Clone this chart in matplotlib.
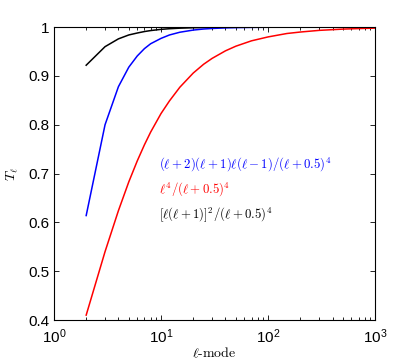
import numpy as np
import matplotlib
matplotlib.use('Agg')
import matplotlib.pyplot as plt
from matplotlib.ticker import FixedLocator, FuncFormatter

plt.rcParams['font.family'] = 'Liberation Sans'
plt.rcParams['mathtext.fontset'] = 'cm'

# values
ell = [2, 3, 4, 5, 6, 7, 8, 10, 12, 15, 20, 25, 30, 40, 50, 70, 100, 150, 200, 300, 500, 700, 1000]
t_red = [0.410, 0.540, 0.624, 0.683, 0.726, 0.759, 0.785, 0.823, 0.849, 0.877, 0.906, 0.924,
         0.936, 0.9515, 0.961, 0.972, 0.980, 0.987, 0.990, 0.9934, 0.996, 0.9971, 0.998]
t_blue = [0.614, 0.800, 0.878, 0.918, 0.941, 0.956, 0.966, 0.977, 0.984, 0.9896, 0.994, 0.9962,
          0.9973, 0.9985, 0.999, 0.9995, 0.9998, 0.9999, 1.0, 1.0, 1.0, 1.0, 1.0]
t_black = [0.922, 0.960, 0.976, 0.984, 0.988, 0.991, 0.993, 0.9955, 0.9968, 0.9979, 0.9988, 0.9992,
           0.9995, 0.9997, 0.9998, 0.9999, 1.0, 1.0, 1.0, 1.0, 1.0, 1.0, 1.0]

labels = [r'$(\ell+2)(\ell+1)\ell(\ell-1)/(\ell+0.5)^4$',
          r'$\ell^4/(\ell+0.5)^4$',
          r'$[\ell(\ell+1)]^2/(\ell+0.5)^4$']
yticks = [0.4, 0.5, 0.6, 0.7, 0.8, 0.9, 1.0]

fig = plt.figure(figsize=(4.15, 3.62), dpi=100)
ax = fig.add_axes([0.130, 0.116, 0.774, 0.809])

ax.plot(ell, t_black, color='k', lw=1.1)
ax.plot(ell, t_blue, color='b', lw=1.1)
ax.plot(ell, t_red, color='r', lw=1.1)

ax.set_xscale('log')
ax.set_xlim(1, 1000)
ax.set_ylim(0.4, 1.0)
ax.yaxis.set_major_locator(FixedLocator(yticks))
ax.yaxis.set_major_formatter(FuncFormatter(lambda v, p: '%g' % v))
ax.xaxis.set_major_formatter(FuncFormatter(lambda v, p: r'$\mathregular{10^{%d}}$' % round(np.log10(v))))
ax.tick_params(which='both', direction='in', top=True, right=True, labelsize=11, width=0.6)
ax.tick_params(which='major', length=3.5)
ax.tick_params(which='minor', length=2)
ax.tick_params(axis='x', pad=5)
for s in ax.spines.values():
    s.set_linewidth(0.8)

ax.set_xlabel(r'$\ell$-mode', fontsize=10, family='cmr10', labelpad=0)
ax.set_ylabel(r'$T_\ell$', fontsize=10, labelpad=6)

cols = ['b', 'r', 'k']
ys = [0.72, 0.668, 0.616]
for lab, c, y in zip(labels, cols, ys):
    ax.text(9.6, y, lab, color=c, fontsize=9.2, va='center', ha='left')

plt.savefig('out.png', dpi=100)
